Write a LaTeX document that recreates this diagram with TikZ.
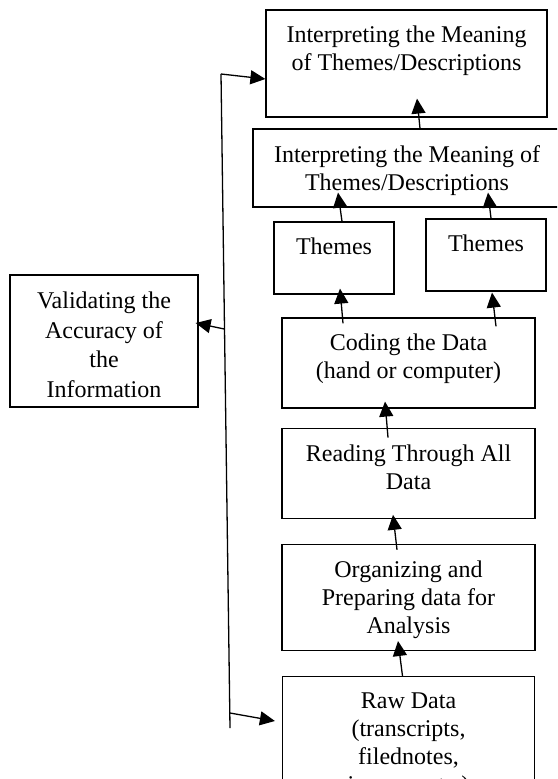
\documentclass[tikz,border=0pt]{standalone}
\usepackage{fontspec}
\setmainfont{Liberation Serif}
\usetikzlibrary{positioning, arrows.meta, calc}

\begin{document}
\begin{tikzpicture}[
  x=0.5pt, y=-0.5pt,
  font=\fontsize{12}{14}\selectfont,
  box/.style={draw, line width=0.6pt, inner sep=0pt},
  txt/.style={align=center, inner sep=0pt, anchor=north},
  flow/.style={->, line width=0.65pt},
  >={Triangle[length=7.5pt, width=7pt]}
]
\useasboundingbox (0,0) rectangle (557,779);
\clip (0,0) rectangle (557,779);
% top of the chain
\node[box, minimum width=140.5pt, minimum height=53.5pt] (meaning) at (406.5,63.5) {};
\node[box, minimum width=154pt, minimum height=39pt] (interp) at (407,168) {};
\node[box, minimum width=60pt, minimum height=36pt] (themesA) at (334,258) {};
\node[box, minimum width=60pt, minimum height=36pt] (themesB) at (486,255) {};
% main column, bottom up
\node[box, minimum width=126.5pt, minimum height=45pt] (coding) at (408.5,363) {};
\node[box, minimum width=126.5pt, minimum height=45pt, below=9.5pt of coding] (reading) {};
\node[box, minimum width=126.5pt, minimum height=53pt, below=12.5pt of reading] (organize) {};
\node[box, minimum width=126pt, minimum height=71pt, below=12.5pt of organize] (raw) {};
% side box
\node[box, minimum width=94pt, minimum height=66pt] (validate) at (104,341) {};
% box texts, hung from the top edge
\node[txt] (meaning-t) at ($(meaning.north)+(0,16.5)$) {Interpreting the Meaning\\of Themes/Descriptions};
\node[txt] (interp-t) at ($(interp.north)+(0,16.5)$) {Interpreting the Meaning of\\Themes/Descriptions};
\node[txt] (themesA-t) at ($(themesA.north)+(0,16.5)$) {Themes};
\node[txt] (themesB-t) at ($(themesB.north)+(0,16.5)$) {Themes};
\node[txt] (coding-t) at ($(coding.north)+(0,16.5)$) {Coding the Data\\(hand or computer)};
\node[txt] (reading-t) at ($(reading.north)+(0,16.5)$) {Reading Through All\\Data};
\node[txt] (organize-t) at ($(organize.north)+(0,16.5)$) {Organizing and\\Preparing data for\\Analysis};
\node[txt] (raw-t) at ($(raw.north)+(0,16.5)$) {Raw Data\\(transcripts,\\filednotes,\\images, etc.)};
\begin{scope}
  \clip (validate.north west) rectangle ($(validate.south east)+(0,-9.5)$);
  \node[txt, font=\fontsize{12}{14.75}\selectfont] (validate-t) at ($(validate.north)+(0,17.5)$) {Validating the\\Accuracy of\\the\\Information};
\end{scope}
% upward flow
\draw[flow] ($(raw.north)+(-6,0)$) -- ($(organize.south)+(-10.5,-10)$);
\draw[flow] ($(organize.north)+(-11.5,6)$) -- ($(reading.south)+(-15.5,-4)$);
\draw[flow] ($(reading.north)+(-20.5,10)$) -- ($(coding.south)+(-23.5,-7)$);
\draw[flow] ($(coding.north)+(-65.5,6)$) -- ($(themesA.south)+(6,-6)$);
\draw[flow] ($(coding.north)+(87.5,9)$) -- ($(themesB.south)+(6,1)$);
\draw[flow] ($(themesA.north)+(8,0)$) -- ($(interp.south)+(-69,-15)$);
\draw[flow] ($(themesB.north)+(5,0)$) -- ($(interp.south)+(81,-15)$);
\draw[flow] ($(interp.north)+(13,0)$) -- ($(meaning.south)+(10.5,-19)$);
% validation line on the left
\coordinate (fbtop) at (221,74);
\coordinate (fbbot) at (230,728);
\draw[line width=0.65pt] (fbtop) -- (fbbot);
\draw[flow] (fbtop) -- ($(meaning.west)+(0,15.5)$);
\draw[flow] ($(fbtop)!0.39!(fbbot)$) -- ($(validate.east)+(-3,-18)$);
\draw[flow] ($(fbtop)!0.977!(fbbot)$) -- ($(raw.north west)+(-7,45)$);
\end{tikzpicture}
\end{document}
